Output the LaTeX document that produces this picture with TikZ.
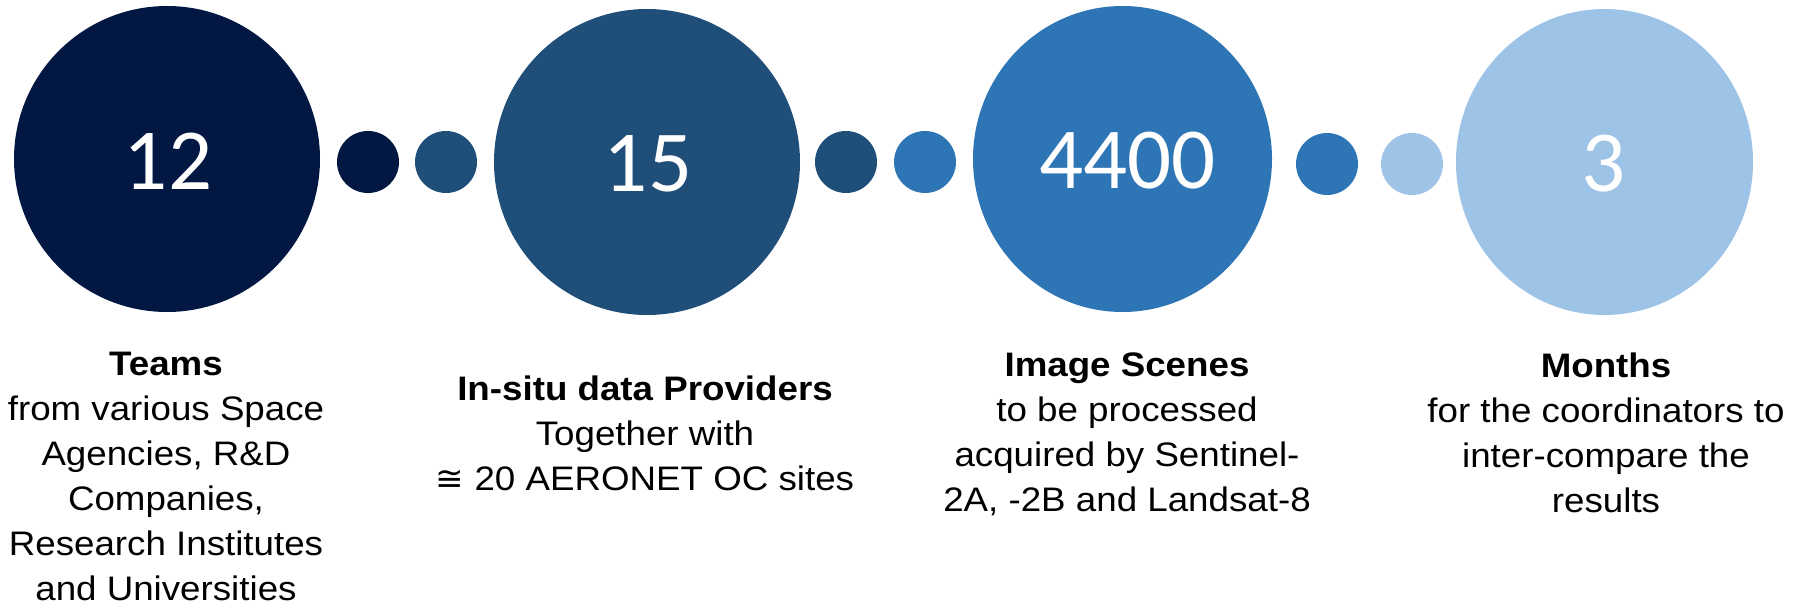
\documentclass[tikz,border=0pt]{standalone}
\usepackage{fontspec}
\setmainfont{Liberation Sans}[FakeStretch=1.08]
\newfontfamily\numfont{Carlito}
\newfontfamily\symfont{DejaVu Sans}
\usetikzlibrary{shapes.geometric}
\definecolor{navy}{HTML}{021843}
\definecolor{steel}{HTML}{1F4E79}
\definecolor{midblue}{HTML}{2E75B6}
\definecolor{skyblue}{HTML}{9DC3E6}
\tikzset{
  bigdisc/.style={ellipse, inner sep=0pt, minimum height=306pt, fill=#1},
  dot/.style={circle, inner sep=0pt, minimum size=62pt, fill=#1},
  figure/.style={text=white, font=\numfont\fontsize{87}{90}\selectfont, inner sep=0pt},
  caption/.style={align=center, anchor=north, inner sep=0pt,
    font=\fontsize{34}{45}\selectfont}
}
\begin{document}
\begin{tikzpicture}[x=1pt,y=-1pt]
\useasboundingbox (0,0) rectangle (1797,607);
% main discs
\node[bigdisc=navy, minimum width=306pt] (c1) at (167,159) {};
\node[bigdisc=steel, minimum width=306pt] (c2) at (647,162) {};
\node[bigdisc=midblue, minimum width=299pt] (c3) at (1122.5,159) {};
\node[bigdisc=skyblue, minimum width=297pt] (c4) at (1604.5,162) {};
% linking dots
\node[dot=navy] (d1) at (368,162) {};
\node[dot=steel] (d2) at (446,162) {};
\node[dot=steel] (d3) at (846,162) {};
\node[dot=midblue] (d4) at (925,162) {};
\node[dot=midblue] (d5) at (1327,164) {};
\node[dot=skyblue] (d6) at (1412,164) {};
% figures
\node[figure] (n1) at (168,161) {12};
\node[figure] (n2) at (648,164) {15};
\node[figure] (n3) at (1127.5,161) {4400};
\node[figure] (n4) at (1604,164) {3};
% captions (top edge sits one cap height above the first baseline)
\node[caption] (t1) at (166,352) {\textbf{Teams}\\from various Space\\Agencies, R\&D\\Companies,\\Research Institutes\\and Universities};
\node[caption] (t2) at (645,376) {\textbf{In-situ data Providers}\\Together with\\{\symfont ≅} 20 AERONET OC sites};
\node[caption] (t3) at (1127,353) {\textbf{Image Scenes}\\to be processed\\acquired by Sentinel-\\2A, -2B and Landsat-8};
\node[caption] (t4) at (1606,353) {\textbf{Months}\\for the coordinators to\\inter-compare the\\results};
\end{tikzpicture}
\end{document}
